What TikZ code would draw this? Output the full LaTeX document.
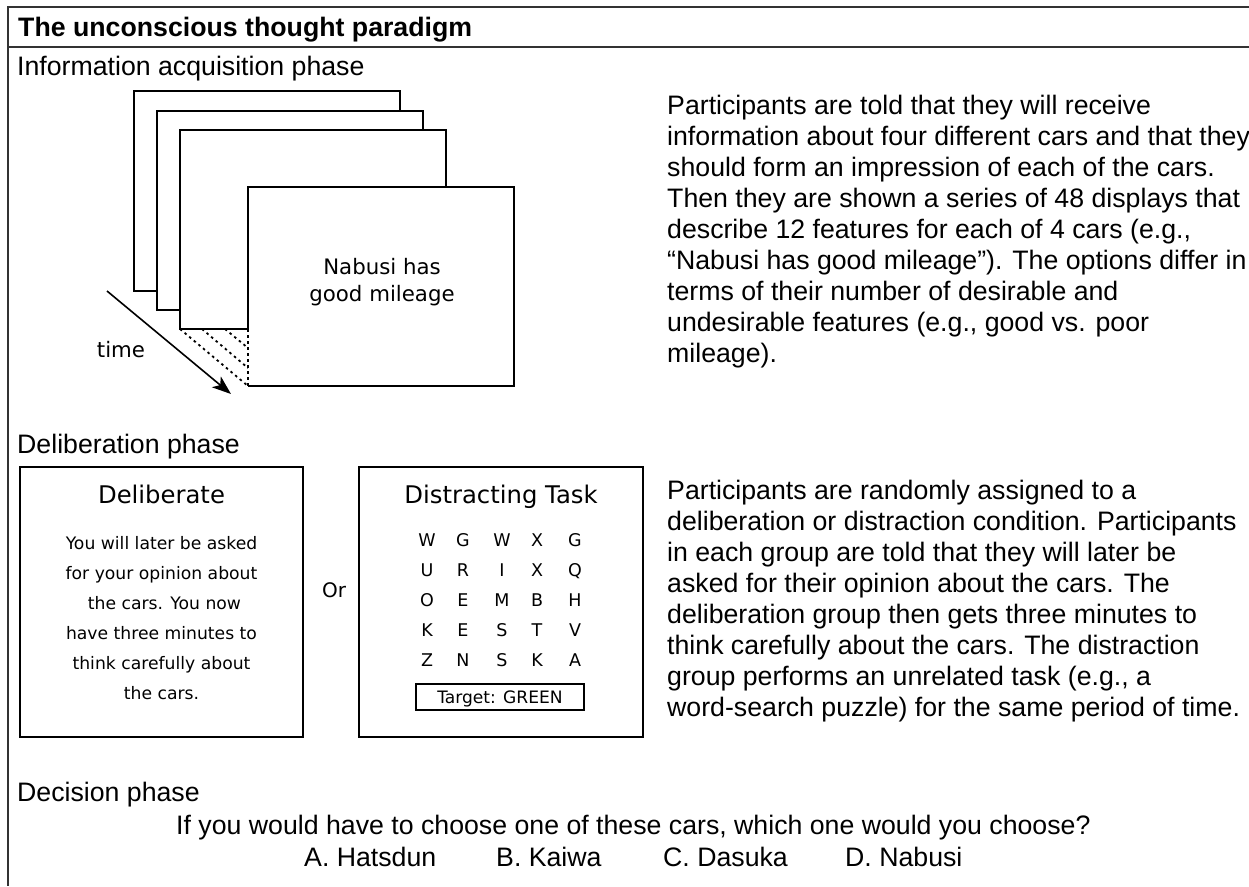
\documentclass[tikz,border=0pt]{standalone}
\usepackage{fontspec}
\setmainfont{Liberation Sans}
\newfontfamily\vfont{DejaVu Sans}
\usetikzlibrary{arrows.meta}
\newcommand\myAr{\fontsize{26.7}{31}\selectfont}
\newcommand\myArB{\fontsize{26.7}{31}\selectfont\bfseries}
\tikzset{
  frameline/.style={draw=black!80, line width=1.5pt},
  card/.style={draw=black, line width=2pt, fill=white},
  cardline/.style={draw=black, line width=2pt},
  boxline/.style={draw=black, line width=2pt},
  dots/.style={draw=black, line width=1.8pt, dash pattern=on 2.5pt off 3.5pt},
  ar/.style={font=\myAr, inner sep=0pt, anchor=base west},
  vtitle/.style={font=\vfont\fontsize{24.3}{28}\selectfont, inner sep=0pt, anchor=base},
  vbody/.style={font=\vfont\fontsize{17.2}{30}\selectfont, inner sep=0pt, anchor=base},
  vcard/.style={font=\vfont\fontsize{21.3}{27}\selectfont, inner sep=0pt, anchor=base},
  vgrid/.style={font=\vfont\fontsize{17.5}{30}\selectfont, inner sep=0pt, anchor=base},
}
\begin{document}
\begin{tikzpicture}[x=1pt,y=-1pt]
\useasboundingbox (0,0) rectangle (1249,886);
\fill[white] (0,0) rectangle (1249,886);
% frame
\draw[frameline] (1249,7) -- (8,7) -- (8,886);
\draw[frameline] (8,47) -- (1249,47);
\node[ar, font=\myArB] (title) at (18,36) {The unconscious thought paradigm};
% headings
\node[ar] (h1) at (17,75) {Information acquisition phase};
\node[ar] (h2) at (17,453) {Deliberation phase};
\node[ar] (h3) at (17,801) {Decision phase};
% cards
\draw[card] (134,91) rectangle (400,291);
\draw[card] (157,111) rectangle (423,310);
\draw[card] (180,130) rectangle (446,329);
\fill[white] (248,187) rectangle (514,386);
\draw[cardline] (248,329) -- (248,187) -- (514,187) -- (514,386) -- (248,386);
\draw[dots] (248,329) -- (248,386);
\draw[dots] (180,329) -- (248,386);
\draw[dots] (202,329) -- (248,368);
\draw[dots] (225,329) -- (248,348);
\node[vcard] (nab1) at (382,274) {Nabusi has};
\node[vcard] (nab2) at (382,301) {good mileage};
% time arrow
\coordinate (t0) at (107,291);
\coordinate (t1) at (231,394);
\draw[line width=1.6pt, -{Stealth[length=19pt,width=14pt,inset=5pt]}] (t0) -- (t1);
\node[vcard] (time) at (121,357) {time};
% paragraph 1
\foreach \t [count=\i] in {
  {Participants are told that they will receive},
  {information about four different cars and that they},
  {should form an impression of each of the cars.},
  {Then they are shown a series of 48 displays that},
  {describe 12 features for each of 4 cars (e.g.,},
  {“Nabusi has good mileage”). The options differ in},
  {terms of their number of desirable and},
  {undesirable features (e.g., good vs. poor},
  {mileage).}}
  \node[ar] (pa\i) at (667,{114+31*(\i-1)}) {\t};
% deliberate box
\draw[boxline] (20,467) rectangle (303,737);
\node[vtitle] (delt) at (161.5,503) {Deliberate};
\foreach \t [count=\i] in {
  {You will later be asked},
  {for your opinion about},
  {\hspace*{0.35em}the cars. You now},
  {have three minutes to},
  {think carefully about},
  {the cars.}}
  \node[vbody] (db\i) at (161.5,{549+30*(\i-1)}) {\t};
\node[vcard, font=\vfont\fontsize{20}{24}\selectfont] (or) at (334,597) {Or};
% distracting box
\draw[boxline] (359,467) rectangle (643,737);
\node[vtitle] (dist) at (501,503) {Distracting Task};
\foreach \row [count=\r] in {{W,G,W,X,G},{U,R,I,X,Q},{O,E,M,B,H},{K,E,S,T,V},{Z,N,S,K,A}}{
  \foreach \l [count=\c] in \row {
    \pgfmathsetmacro\xx{{427,463,502,537,575}[\c-1]}
    \node[vgrid] (g\r-\c) at (\xx,{546.5+30*(\r-1)}) {\l};
  }
}
\draw[line width=1.8pt] (416,684) rectangle (584,710);
\node[vgrid, font=\vfont\fontsize{17.1}{20}\selectfont] (target) at (500,703) {Target: GREEN};
% paragraph 2
\foreach \t [count=\i] in {
  {Participants are randomly assigned to a},
  {deliberation or distraction condition. Participants},
  {in each group are told that they will later be},
  {asked for their opinion about the cars. The},
  {deliberation group then gets three minutes to},
  {think carefully about the cars. The distraction},
  {group performs an unrelated task (e.g., a},
  {word-search puzzle) for the same period of time.}}
  \node[ar] (pb\i) at (667,{499+31*(\i-1)}) {\t};
% decision
\node[ar] (q) at (176,834) {If you would have to choose one of these cars, which one would you choose?};
\node[ar] (oa) at (304,866) {A. Hatsdun};
\node[ar] (ob) at (496,866) {B. Kaiwa};
\node[ar] (oc) at (663,866) {C. Dasuka};
\node[ar] (od) at (845,866) {D. Nabusi};
\end{tikzpicture}
\end{document}
